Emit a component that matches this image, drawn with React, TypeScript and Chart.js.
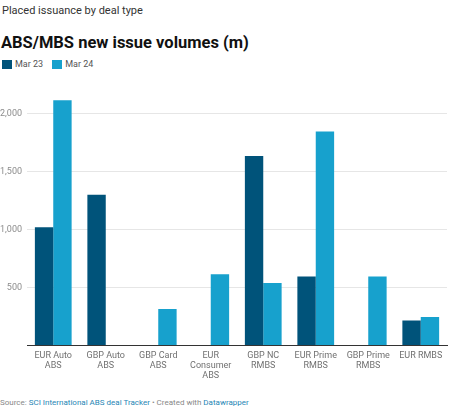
import { useEffect, useRef } from "react"
import { Chart, registerables } from "chart.js"

Chart.register(...registerables)

const categories = [
  ["EUR Auto", "ABS"],
  ["GBP Auto", "ABS"],
  ["GBP Card", "ABS"],
  ["EUR", "Consumer", "ABS"],
  ["GBP NC", "RMBS"],
  ["EUR Prime", "RMBS"],
  ["GBP Prime", "RMBS"],
  ["EUR RMBS"],
]
const mar23 = [1020, 1300, null, null, 1635, 595, null, 215]
const mar24 = [2115, null, 315, 615, 540, 1845, 595, 245]
const yTicks = [0, 500, 1000, 1500, 2000]

const DARK = "#00537a"
const LIGHT = "#17a1cd"
const FONT = "Roboto, 'Noto Sans', sans-serif"

export default function App() {
  const chartRef = useRef<HTMLCanvasElement>(null)
  const chartInstance = useRef<Chart | null>(null)

  useEffect(() => {
    if (!chartRef.current) return
    if (chartInstance.current) chartInstance.current.destroy()
    const ctx = chartRef.current.getContext("2d")
    if (!ctx) return

    chartInstance.current = new Chart(ctx, {
      type: "bar",
      data: {
        labels: categories,
        datasets: [
          { label: "Mar 23", data: mar23, backgroundColor: DARK },
          { label: "Mar 24", data: mar24, backgroundColor: LIGHT },
        ],
      },
      options: {
        animation: false,
        responsive: false,
        maintainAspectRatio: false,
        layout: { padding: { top: 10, right: 3, left: 0, bottom: 0 } },
        datasets: { bar: { categoryPercentage: 0.7, barPercentage: 1.0 } },
        plugins: {
          legend: { display: false },
          tooltip: { enabled: false },
        },
        scales: {
          x: {
            grid: { display: false, drawTicks: false },
            border: { display: true, color: "#333333", width: 1 },
            ticks: {
              autoSkip: false,
              maxRotation: 0,
              minRotation: 0,
              padding: 5,
              color: "#707070",
              font: { family: FONT, size: 9, lineHeight: 1.1 },
            },
            afterFit: (scale) => {
              scale.height = 46.5
            },
          },
          y: {
            min: 0,
            max: 2200,
            afterBuildTicks: (scale) => {
              scale.ticks = yTicks.map((v) => ({ value: v }))
            },
            grid: {
              drawTicks: false,
              color: (c) => (c.tick && c.tick.value === 0 ? "rgba(0,0,0,0)" : "#e6e6e6"),
            },
            border: { display: false },
            ticks: {
              padding: 5,
              color: "#8c8c8c",
              font: { family: FONT, size: 9 },
              callback: (v) => (Number(v) === 0 ? "" : Number(v).toLocaleString("en-US")),
            },
            afterFit: (scale) => {
              scale.width = 27
            },
          },
        },
      },
    })

    return () => {
      if (chartInstance.current) {
        chartInstance.current.destroy()
        chartInstance.current = null
      }
    }
  }, [])

  const legendItem = (color: string, text: string) => (
    <span style={{ display: "inline-flex", alignItems: "center", marginRight: 9 }}>
      <span style={{ width: 10, height: 9, background: color, display: "inline-block", marginRight: 3 }} />
      <span>{text}</span>
    </span>
  )

  return (
    <div style={{ position: "fixed", left: 0, top: 0, width: 450, height: 408, background: "#fff", fontFamily: FONT, overflow: "hidden" }}>
      <div style={{ position: "absolute", left: 2, top: 4, fontSize: 11, color: "#333", lineHeight: "14px" }}>
        Placed issuance by deal type
      </div>
      <div style={{ position: "absolute", left: 1, top: 33, fontSize: 16.5, fontWeight: 700, color: "#111", lineHeight: "20px" }}>
        ABS/MBS new issue volumes (m)
      </div>
      <div style={{ position: "absolute", left: 2, top: 58, fontSize: 9, color: "#555", lineHeight: "12px", display: "flex" }}>
        {legendItem(DARK, "Mar 23")}
        {legendItem(LIGHT, "Mar 24")}
      </div>
      <canvas ref={chartRef} width={450} height={312} style={{ position: "absolute", left: 0, top: 80, width: 450, height: 312 }} />
      <div style={{ position: "absolute", left: 0, top: 397, fontSize: 8, color: "#888", lineHeight: "11px", whiteSpace: "nowrap" }}>
        Source: <span style={{ color: "#1f86b5" }}>SCI International ABS deal Tracker</span> • Created with{" "}
        <span style={{ color: "#1f86b5" }}>Datawrapper</span>
      </div>
    </div>
  )
}
